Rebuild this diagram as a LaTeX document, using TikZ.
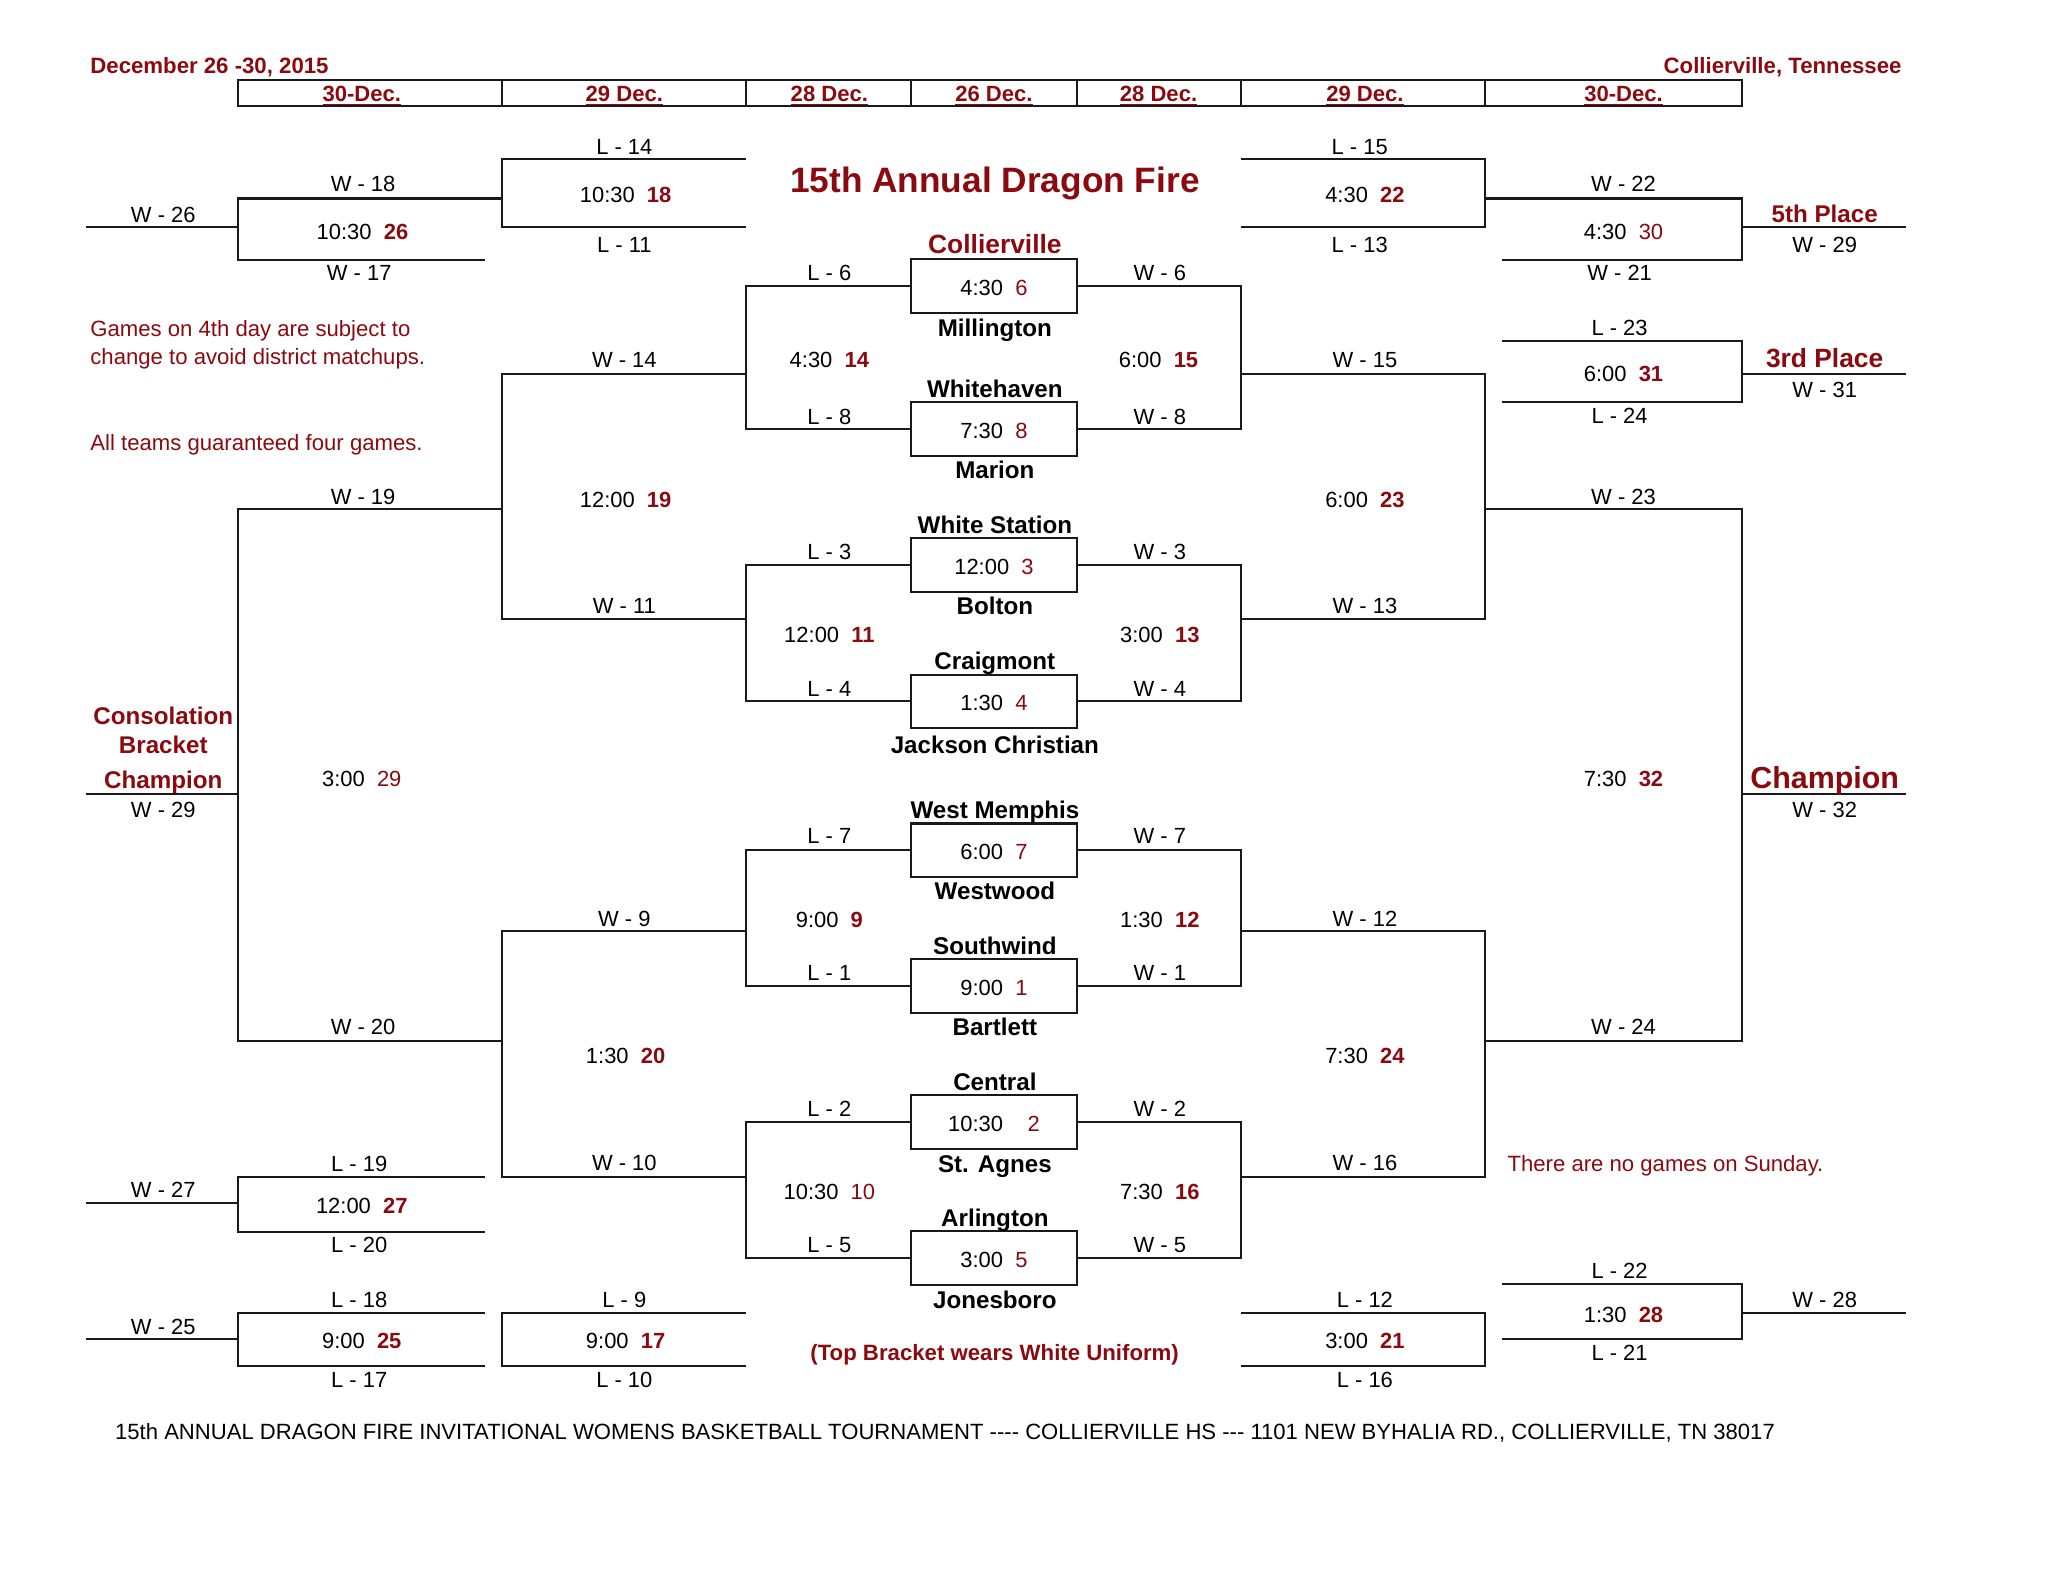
\documentclass[tikz,border=0pt]{standalone}
\usepackage{fontspec}
\setmainfont{Liberation Sans}
\usetikzlibrary{positioning}
\definecolor{dred}{HTML}{8B0A0F}
\newcommand{\fs}[1]{\fontsize{#1}{#1}\selectfont}
\newcommand{\gmb}[2]{\raisebox{-1.4pt}[\height][0pt]{#1\ \ {\bfseries\color{dred}#2}}}
\newcommand{\gmr}[2]{\raisebox{-1.4pt}[\height][0pt]{#1\ \ {\color{dred}#2}}}
\begin{document}
\begin{tikzpicture}[x=1pt,y=-1pt,
  brk/.style={line width=1.6pt,color=black!90,line join=miter},
  txt/.style={inner sep=0pt,anchor=base,yshift=-6pt,font=\fs{16.8}},
  gm/.style={inner sep=0pt,font=\fs{16.8}},
  matchbox/.style={draw=black!90,line width=1.6pt,fill=white,inner sep=0pt,outer sep=0pt,minimum width=127pt,minimum height=41pt,font=\fs{16.8}},
  hd/.style={inner sep=0pt,anchor=base,yshift=-6pt,text=dred,font=\fs{16.9}\bfseries},
  note/.style={inner sep=0pt,anchor=base west,yshift=-6pt,text=dred,font=\fs{17}},
  team/.style={inner sep=0pt,anchor=base,yshift=-6.6pt,font=\fs{18.5}\bfseries},
  prize/.style={inner sep=0pt,anchor=base,yshift=-6.6pt,text=dred,font=\fs{18.5}\bfseries}]
\useasboundingbox (0,0) rectangle (1568,1211.3);
\draw[brk] (182,61) rectangle (1334,81);
\foreach \x in {384,571,697.5,824.5,950,1137} \draw[brk] (\x,61) to (\x,81);
\foreach \x/\t [count=\n] in {277/30-Dec.,478/29 Dec.,635/28 Dec.,761/26 Dec.,887/28 Dec.,1045/29 Dec.,1243/30-Dec.}
  \node[hd] (day\n) at (\x,72) {\underline{\t}};
\node[note,font=\fs{17}\bfseries] (dates) at (69,50) {December 26 -30, 2015};
\node[note,anchor=base east,font=\fs{17}\bfseries] (place) at (1456,50) {Collierville, Tennessee};
\draw[brk] (66,174) to (182,174);
\draw[brk] (371,199) to (182,199) to (182,152) to (384,152);
\draw[brk] (571,122) to (384,122) to (384,174) to (571,174);
\draw[brk] (950,122) to (1137,122) to (1137,174) to (950,174);
\draw[brk] (1150,199) to (1334,199) to (1334,152) to (1137,152);
\draw[brk] (1334,174) to (1459,174);
\draw[brk] (1150,261) to (1334,261) to (1334,308) to (1150,308);
\draw[brk] (1334,286) to (1459,286);
\draw[brk] (384,797) to (182,797) to (182,390) to (384,390);
\draw[brk] (66,608) to (182,608);
\draw[brk] (1137,797) to (1334,797) to (1334,390) to (1137,390);
\draw[brk] (1334,608) to (1459,608);
\draw[brk] (571,286) to (384,286) to (384,474) to (571,474);
\draw[brk] (571,713) to (384,713) to (384,901) to (571,901);
\draw[brk] (950,286) to (1137,286) to (1137,474) to (950,474);
\draw[brk] (950,713) to (1137,713) to (1137,901) to (950,901);
\draw[brk] (371,901) to (182,901) to (182,943) to (371,943);
\draw[brk] (66,921) to (182,921);
\draw[brk] (371,1005) to (182,1005) to (182,1046) to (371,1046);
\draw[brk] (66,1025) to (182,1025);
\draw[brk] (571,1005) to (384,1005) to (384,1046) to (571,1046);
\draw[brk] (950,1005) to (1137,1005) to (1137,1046) to (950,1046);
\draw[brk] (1150,983) to (1334,983) to (1334,1025) to (1150,1025);
\draw[brk] (1334,1005) to (1459,1005);
\foreach \y/\tm/\g in {219/4:30/6,328.5/7:30/8,432.5/12:00/3,537/1:30/4,651/6:00/7,755/9:00/1,859/10:30\ \ /2,963/3:00/5}
  \node[matchbox] (box\g) at (761,\y) {\gmr{\tm}{\g}};
\foreach \a/\b in {6/8,3/4,7/1,2/5} {
  \draw[brk] (box\a.west) to ++(-126.5,0) |- (box\b.west);
  \draw[brk] (box\a.east) to ++(125.5,0) |- (box\b.east);
}
\foreach \x/\y/\tm/\g in {277.5/176/10:30/26,479/148/10:30/18,1045/148/4:30/22,1243/285/6:00/31,635/274/4:30/14,887/274/6:00/15,479/381/12:00/19,1045/381/6:00/23,635/485/12:00/11,888/485/3:00/13,1243/595/7:30/32,635/703/9:00/9,888/703/1:30/12,479/807/1:30/20,1045/807/7:30/24,888/911/7:30/16,277/922/12:00/27,277/1025/9:00/25,479/1025/9:00/17,1045/1025/3:00/21,1243/1005/1:30/28}
  \node[gm] (game\g) at (\x,\y) {\gmb{\tm}{\g}};
\foreach \x/\y/\tm/\g in {1243/176/4:30/30,277/595/3:00/29,635/911/10:30/10}
  \node[gm] (game\g) at (\x,\y) {\gmr{\tm}{\g}};
\foreach \x/\y/\t [count=\n] in {125/164/W - 26,125/620/W - 29,125/911/W - 27,125/1016/W - 25,
  278/141/W - 18,275/209/W - 17,278/380/W - 19,278/786/W - 20,275/891/L - 19,275/953/L - 20,275/995/L - 18,275/1056/L - 17,
  478/112/L - 14,478/187/L - 11,478/275/W - 14,478/464/W - 11,478/703/W - 9,478/890/W - 10,478/995/L - 9,478/1056/L - 10,
  635/209/L - 6,635/319/L - 8,635/422/L - 3,635/527/L - 4,635/640/L - 7,635/745/L - 1,635/849/L - 2,635/953/L - 5,
  888/209/W - 6,888/319/W - 8,888/422/W - 3,888/527/W - 4,888/640/W - 7,888/745/W - 1,888/849/W - 2,888/953/W - 5,
  1041/112/L - 15,1041/187/L - 13,1045/275/W - 15,1045/464/W - 13,1045/703/W - 12,1045/890/W - 16,1045/995/L - 12,1045/1056/L - 16,
  1243/141/W - 22,1240/209/W - 21,1240/251/L - 23,1240/318/L - 24,1243/380/W - 23,1243/786/W - 24,1240/973/L - 22,1240/1036/L - 21,
  1397/187/W - 29,1397/298/W - 31,1397/620/W - 32,1397/995/W - 28}
  \node[txt] (lb\n) at (\x,\y) {\t};
\foreach \y/\t [count=\n] in {251/Millington,298/Whitehaven,360/Marion,402/White Station,464/Bolton,506/Craigmont,570/Jackson Christian,620/West Memphis,682/Westwood,724/Southwind,786/Bartlett,828/Central,891/St. Agnes,932.5/Arlington,995/Jonesboro}
  \node[team] (team\n) at (761.7,\y) {\t};
\node[team,text=dred,font=\fs{20.2}\bfseries,yshift=-0.7pt] (host) at (761.7,186.5) {Collierville};
\node[prize,font=\fs{27}\bfseries,yshift=-3pt] (title) at (761.7,138) {15th Annual Dragon Fire};
\node[prize] (fifth) at (1397,164) {5th Place};
\node[prize,font=\fs{20.2}\bfseries,yshift=-0.7pt] (third) at (1397,274) {3rd Place};
\node[prize,font=\fs{23.3}\bfseries,yshift=-1.8pt] (champ) at (1397,595) {Champion};
\node[prize] (cons1) at (125,548) {Consolation};
\node[prize] (cons2) at (125,570) {Bracket};
\node[prize] (cons3) at (125,597) {Champion};
\node[hd,font=\fs{17}\bfseries] (uniform) at (761.5,1036) {(Top Bracket wears White Uniform)};
\node[note,font=\fs{16.95}] (note1) at (69,252) {Games on 4th day are subject to};
\node[note,font=\fs{16.95}] (note2) at (69,273) {change to avoid district matchups.};
\node[note,font=\fs{16.95}] (note3) at (69,339) {All teams guaranteed four games.};
\node[note,font=\fs{16.95}] (note4) at (1154,891) {There are no games on Sunday.};
\node[note,text=black,font=\fs{16.9}] (footer) at (88,1096) {15th ANNUAL DRAGON FIRE INVITATIONAL WOMENS BASKETBALL TOURNAMENT -{}-{}-{}- COLLIERVILLE HS -{}-{}- 1101 NEW BYHALIA RD., COLLIERVILLE, TN 38017};
\end{tikzpicture}
\end{document}
